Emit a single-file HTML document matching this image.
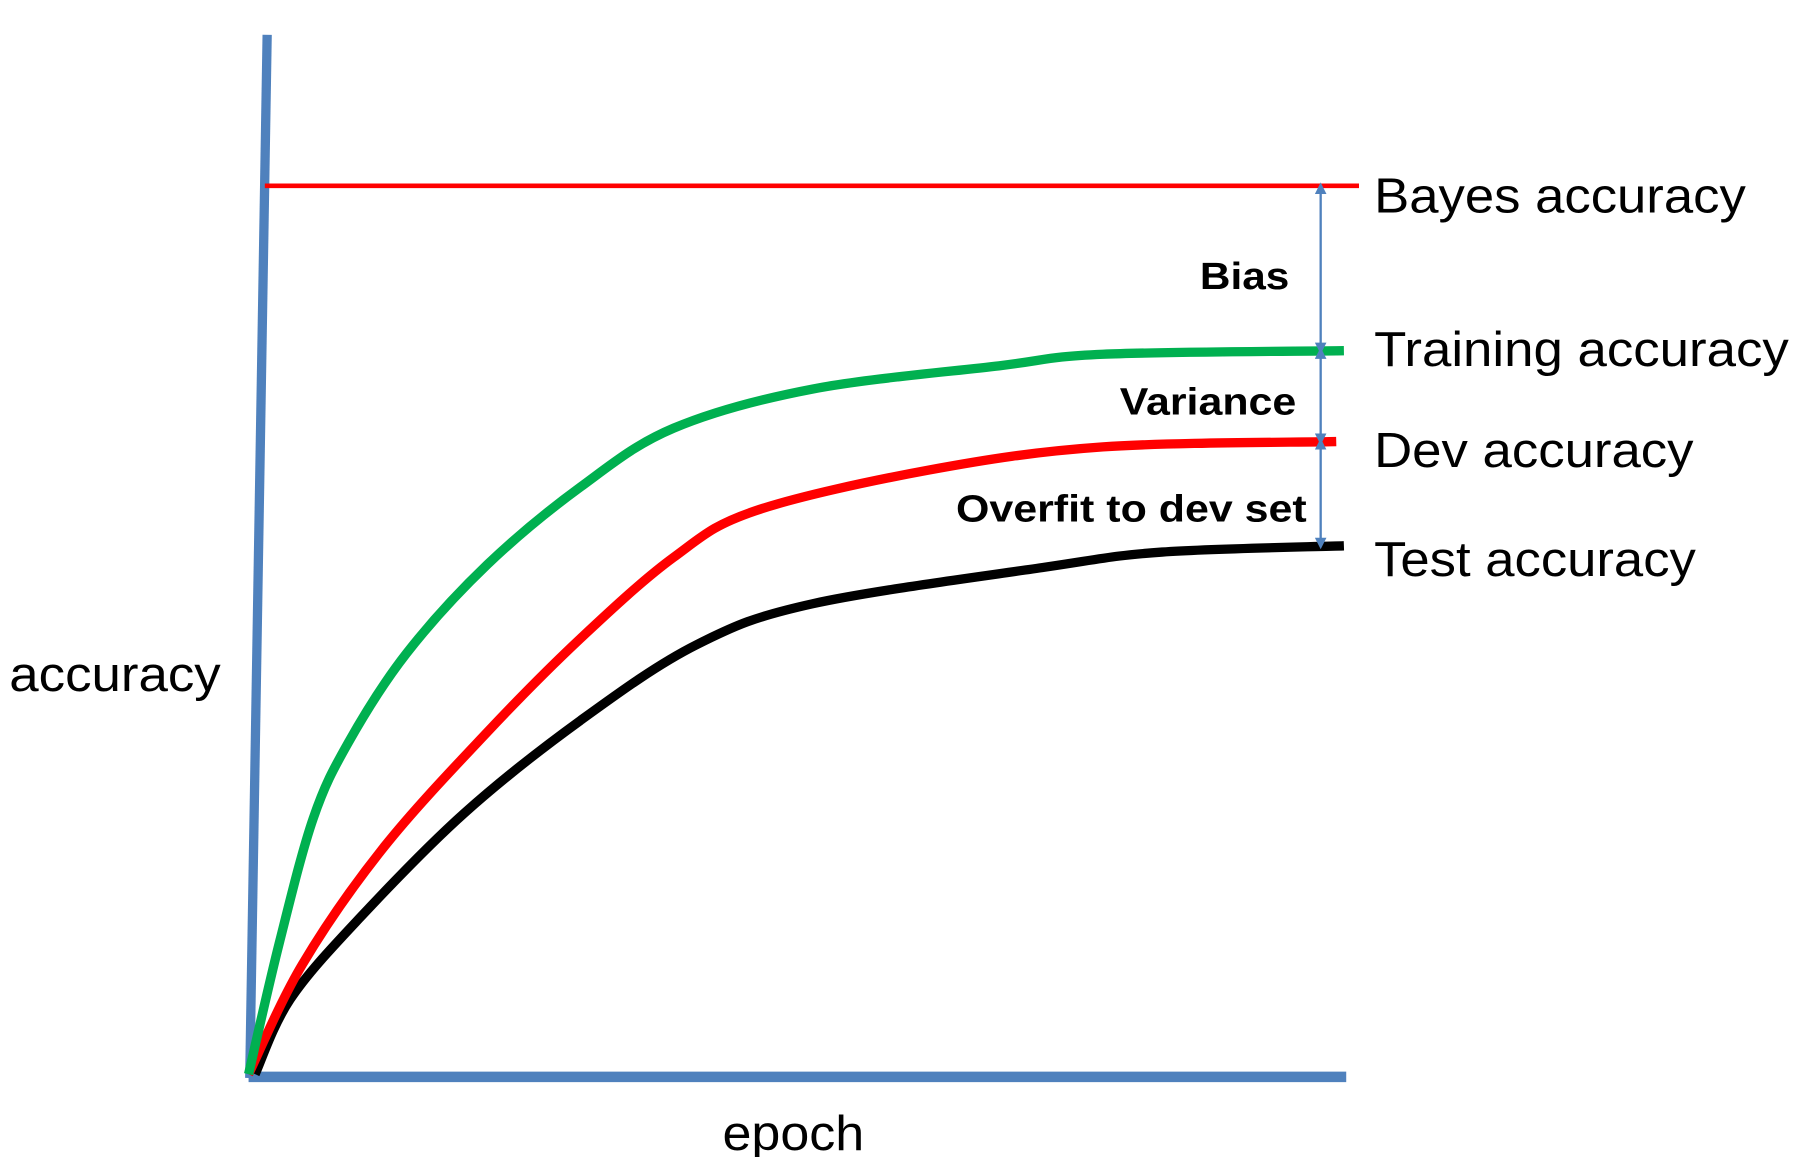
<!DOCTYPE html>
<html><head><meta charset="utf-8"><style>
html,body{margin:0;padding:0;background:#fff;width:1812px;height:1157px;overflow:hidden}
svg{display:block}
text{font-family:"Liberation Sans",Arial,sans-serif}
</style></head><body>
<svg id="chart" width="1812" height="1157" viewBox="0 0 1560 996" preserveAspectRatio="none" xmlns="http://www.w3.org/2000/svg">
<defs>
<marker id="ah" viewBox="0 0 10 10" refX="5" refY="5" markerWidth="5" markerHeight="5" orient="auto-start-reverse"><path d="M0,0 L10,5 L0,10 z" fill="#4F81BD"/></marker>
</defs>
<line x1="230" y1="30" x2="215" y2="928" stroke="#4F81BD" stroke-width="8"/>
<line x1="214" y1="927" x2="1159" y2="927" stroke="#4F81BD" stroke-width="9"/>
<g id="series"></g>
<text x="1183" y="183" font-size="42" textLength="320" lengthAdjust="spacingAndGlyphs">Bayes accuracy</text>
<text x="1183" y="315" font-size="42" textLength="357" lengthAdjust="spacingAndGlyphs">Training accuracy</text>
<text x="1183" y="402" font-size="42" textLength="275" lengthAdjust="spacingAndGlyphs">Dev accuracy</text>
<text x="1183" y="496" font-size="42" textLength="277" lengthAdjust="spacingAndGlyphs">Test accuracy</text>
<text x="8" y="595" font-size="42" textLength="182" lengthAdjust="spacingAndGlyphs">accuracy</text>
<text x="622" y="990" font-size="42" textLength="122" lengthAdjust="spacingAndGlyphs">epoch</text>
<text x="1033" y="249" font-size="33" font-weight="bold" textLength="77" lengthAdjust="spacingAndGlyphs">Bias</text>
<text x="964" y="357" font-size="33" font-weight="bold" textLength="152" lengthAdjust="spacingAndGlyphs">Variance</text>
<text x="823" y="449" font-size="33" font-weight="bold" textLength="302" lengthAdjust="spacingAndGlyphs">Overfit to dev set</text>
</svg>
<script>
const bayesAcc = 1.0;
const trainEpochs = [0, 2.8, 5.9, 9.1, 14.4, 21.8, 30.3, 38.8, 51.5, 68.5, 78, 100];
const trainAcc = [0.003, 0.15, 0.29, 0.375, 0.475, 0.575, 0.662, 0.728, 0.772, 0.798, 0.811, 0.815];
const devEpochs = [0, 4.9, 12.3, 21.8, 30.3, 38.8, 46.2, 62.1, 78, 99.3];
const devAcc = [0.003, 0.126, 0.257, 0.387, 0.492, 0.583, 0.635, 0.681, 0.707, 0.713];
const testEpochs = [0.6, 3.8, 10.2, 19.7, 30.3, 40.9, 51.5, 72.7, 83.4, 100];
const testAcc = [0.003, 0.087, 0.179, 0.296, 0.4, 0.485, 0.531, 0.572, 0.589, 0.596];

const xS = e => 214 + e * 9.43;
const yS = a => 927 - a * 767;
const NS = 'http://www.w3.org/2000/svg';
const g = document.getElementById('series');

function smooth(pts){
  let d = 'M' + pts[0][0] + ',' + pts[0][1];
  for (let i = 0; i < pts.length - 1; i++) {
    const p0 = pts[Math.max(0,i-1)], p1 = pts[i], p2 = pts[i+1], p3 = pts[Math.min(pts.length-1,i+2)];
    const c1x = p1[0] + (p2[0]-p0[0])/6, c1y = p1[1] + (p2[1]-p0[1])/6;
    const c2x = p2[0] - (p3[0]-p1[0])/6, c2y = p2[1] - (p3[1]-p1[1])/6;
    d += ` C${c1x},${c1y} ${c2x},${c2y} ${p2[0]},${p2[1]}`;
  }
  return d;
}
function curve(ep, ac, color, name){
  const p = document.createElementNS(NS, 'path');
  p.setAttribute('d', smooth(ep.map((e,i)=>[xS(e), yS(ac[i])])));
  p.setAttribute('fill','none');
  p.setAttribute('stroke',color);
  p.setAttribute('stroke-width','8');
  
  
  g.appendChild(p);
}
const bl = document.createElementNS(NS, 'line');
bl.setAttribute('x1', 228); bl.setAttribute('x2', 1170);
bl.setAttribute('y1', yS(bayesAcc)); bl.setAttribute('y2', yS(bayesAcc));
bl.setAttribute('stroke', '#FF0000'); bl.setAttribute('stroke-width', '4');


g.appendChild(bl);
curve(testEpochs, testAcc, '#000000', 'test-accuracy-line');
curve(devEpochs, devAcc, '#FF0000', 'dev-accuracy-line');
curve(trainEpochs, trainAcc, '#00B050', 'training-accuracy-line');

const levels = [bayesAcc, trainAcc[trainAcc.length-1], devAcc[devAcc.length-1], testAcc[testAcc.length-1]];
const arrowNames = ['bias-arrow','variance-arrow','overfit-arrow'];
for (let i = 0; i < 3; i++) {
  const a = document.createElementNS(NS, 'line');
  a.setAttribute('x1', 1137); a.setAttribute('x2', 1137);
  a.setAttribute('y1', yS(levels[i]) + 2); a.setAttribute('y2', yS(levels[i+1]) - 2);
  a.setAttribute('stroke', '#4F81BD'); a.setAttribute('stroke-width', '2');
  a.setAttribute('marker-start', 'url(#ah)'); a.setAttribute('marker-end', 'url(#ah)');
  
  
  g.appendChild(a);
}
</script>
</body></html>
